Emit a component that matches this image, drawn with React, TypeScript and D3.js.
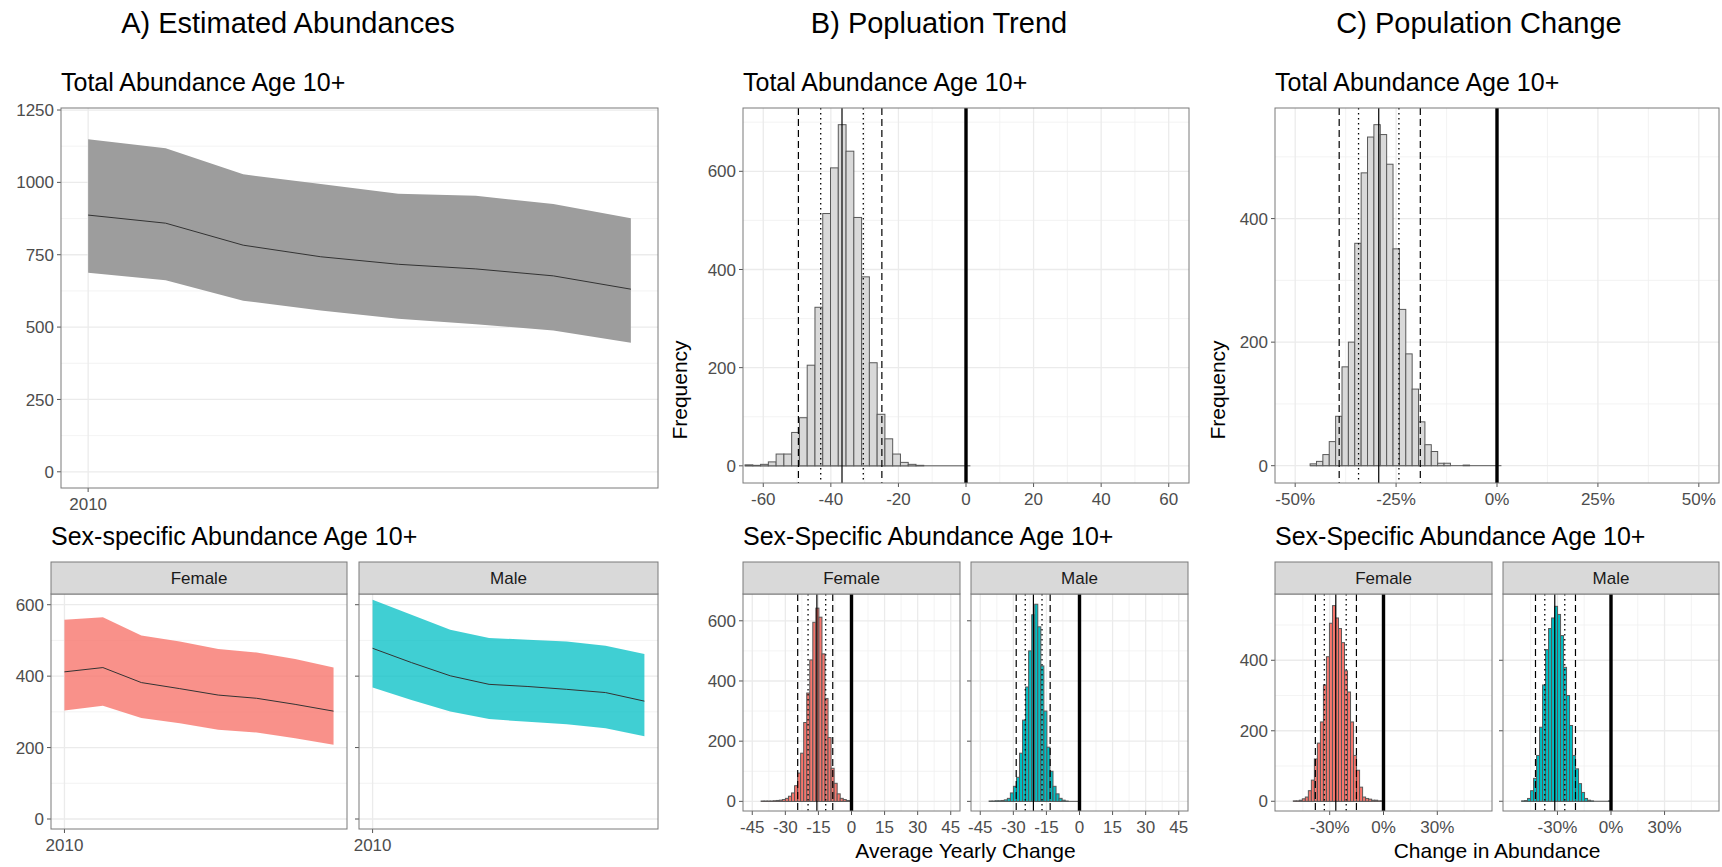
import React, { useEffect, useRef } from "react";
import * as d3 from "d3";

// ---- A) estimated abundances (ribbon = interval, line = estimate)
const years = [2010, 2011, 2012, 2013, 2014, 2015, 2016, 2017];
const totalMean = [887, 859, 783, 743, 717, 701, 677, 631];
const totalLower = [688, 662, 591, 557, 529, 510, 488, 446];
const totalUpper = [1149, 1118, 1028, 994, 961, 954, 925, 876];
const femaleMean = [412, 424, 382, 365, 347, 338, 321, 302];
const femaleLower = [304, 317, 283, 268, 250, 242, 226, 208];
const femaleUpper = [558, 565, 514, 497, 476, 466, 448, 424];
const maleMean = [478, 438, 401, 377, 371, 363, 354, 330];
const maleLower = [368, 333, 301, 280, 272, 265, 254, 232];
const maleUpper = [614, 572, 530, 507, 502, 497, 485, 462];

// ---- B) population trend histograms (average yearly change)
const trendTotalBin = { start: -65.4, width: 2.3 };
const trendTotalCounts = [2, 1, 3, 8, 24, 24, 68, 98, 205, 323, 514, 607, 695, 641, 506, 385, 210, 105, 55, 24, 7, 3, 1, 0, 0, 0, 0, 0, 0];
const trendTotalStats = [-49.6, -43.0, -36.7, -30.4, -24.9]; // 2.5%, 10%, median, 90%, 97.5%

const trendSexBin = { start: -41, width: 1.38 };
const trendFemaleCounts = [1, 1, 1, 1, 2, 3, 4, 6, 10, 17, 28, 52, 94, 160, 262, 360, 470, 595, 642, 612, 490, 342, 212, 110, 60, 25, 10, 6, 3, 1];
const trendMaleCounts = [1, 1, 2, 2, 3, 5, 10, 28, 50, 80, 160, 270, 380, 500, 620, 655, 580, 450, 300, 180, 100, 50, 25, 10, 4, 1, 0, 0, 0, 0];
const trendFemaleStats = [-24.4, -19.7, -15.7, -11.7, -8.5];
const trendMaleStats = [-28.7, -24.6, -20.9, -17.0, -13.3];

// ---- C) population change histograms (percent)
const changeTotalBin = { start: -46.3, width: 1.58 };
const changeTotalCounts = [3, 7, 18, 39, 80, 160, 200, 360, 474, 532, 552, 536, 488, 351, 253, 181, 124, 71, 34, 23, 4, 4, 0, 0, 1, 0, 0, 0, 0, 0];
const changeTotalStats = [-39.1, -34.3, -29.3, -24.3, -19.0];

const changeFemaleBin = { start: -50.3, width: 1.68 };
const changeMaleBin = { start: -50.1, width: 1.68 };
const changeFemaleCounts = [1, 1, 3, 7, 12, 30, 60, 120, 165, 225, 330, 410, 505, 555, 520, 490, 450, 370, 310, 225, 130, 88, 40, 12, 8, 6, 3, 3, 1, 1];
const changeMaleCounts = [1, 2, 8, 30, 65, 130, 210, 330, 430, 490, 520, 553, 530, 470, 380, 300, 215, 130, 92, 50, 25, 8, 3, 1, 0, 0, 0, 0, 0, 1];
const changeFemaleStats = [-38.0, -33.0, -26.6, -20.8, -15.1];
const changeMaleStats = [-42.3, -37.1, -31.5, -25.9, -19.9];

const W = 1722;
const H = 867;
const FONT = "'Liberation Sans', Arial, Helvetica, sans-serif";
const RED = "#F8766D";
const TEAL = "#00BFC4";

function range(a, b, step) {
  const out = [];
  for (let v = a; v <= b + 1e-9; v += step) out.push(+v.toFixed(4));
  return out;
}

function drawPanel(svg, box, xDomain, yDomain, o) {
  const x = d3.scaleLinear().domain(xDomain).range([box.x0, box.x1]);
  const y = d3.scaleLinear().domain(yDomain).range([box.y1, box.y0]);
  const g = svg.append("g");
  g.append("rect")
    .attr("x", box.x0).attr("y", box.y0)
    .attr("width", box.x1 - box.x0).attr("height", box.y1 - box.y0)
    .attr("fill", "white");

  const inX = (v) => x(v) >= box.x0 && x(v) <= box.x1;
  const inY = (v) => y(v) >= box.y0 && y(v) <= box.y1;

  (o.xMinor || []).filter(inX).forEach((v) => {
    g.append("line").attr("x1", x(v)).attr("x2", x(v)).attr("y1", box.y0).attr("y2", box.y1)
      .attr("stroke", "#f0f0f0").attr("stroke-width", 0.8);
  });
  (o.yMinor || []).filter(inY).forEach((v) => {
    g.append("line").attr("x1", box.x0).attr("x2", box.x1).attr("y1", y(v)).attr("y2", y(v))
      .attr("stroke", "#f0f0f0").attr("stroke-width", 0.8);
  });
  o.xMajor.filter(inX).forEach((v) => {
    g.append("line").attr("x1", x(v)).attr("x2", x(v)).attr("y1", box.y0).attr("y2", box.y1)
      .attr("stroke", "#ebebeb").attr("stroke-width", 1.3);
  });
  o.yMajor.filter(inY).forEach((v) => {
    g.append("line").attr("x1", box.x0).attr("x2", box.x1).attr("y1", y(v)).attr("y2", y(v))
      .attr("stroke", "#ebebeb").attr("stroke-width", 1.3);
  });

  const axes = svg.append("g");
  o.xMajor.filter(inX).forEach((v) => {
    axes.append("line").attr("x1", x(v)).attr("x2", x(v)).attr("y1", box.y1).attr("y2", box.y1 + 4)
      .attr("stroke", "#555").attr("stroke-width", 1);
    axes.append("text").attr("x", x(v)).attr("y", box.y1 + 22)
      .attr("text-anchor", "middle").attr("font-size", 17).attr("fill", "#4d4d4d")
      .attr("font-family", FONT).text(o.xFmt ? o.xFmt(v) : String(v));
  });
  o.yMajor.filter(inY).forEach((v) => {
    axes.append("line").attr("x1", box.x0 - 4).attr("x2", box.x0).attr("y1", y(v)).attr("y2", y(v))
      .attr("stroke", "#555").attr("stroke-width", 1);
    if (o.yLabels !== false) {
      axes.append("text").attr("x", box.x0 - 7).attr("y", y(v)).attr("dy", "0.36em")
        .attr("text-anchor", "end").attr("font-size", 17).attr("fill", "#4d4d4d")
        .attr("font-family", FONT).text(String(v));
    }
  });
  return { g, x, y, box };
}

function drawBorder(svg, box) {
  svg.append("rect")
    .attr("x", box.x0).attr("y", box.y0)
    .attr("width", box.x1 - box.x0).attr("height", box.y1 - box.y0)
    .attr("fill", "none").attr("stroke", "#7a7a7a").attr("stroke-width", 1);
}

function drawStrip(svg, box, label) {
  svg.append("rect")
    .attr("x", box.x0).attr("y", 562).attr("width", box.x1 - box.x0).attr("height", 32)
    .attr("fill", "#d9d9d9").attr("stroke", "#7a7a7a").attr("stroke-width", 1);
  svg.append("text").attr("x", (box.x0 + box.x1) / 2).attr("y", 578).attr("dy", "0.36em")
    .attr("text-anchor", "middle").attr("font-size", 17).attr("fill", "#1a1a1a")
    .attr("font-family", FONT).text(label);
}

function drawRibbon(p, lower, upper, mean, fill, opacity) {
  const rows = years.map((yr, i) => ({ yr, lo: lower[i], hi: upper[i], m: mean[i] }));
  const area = d3.area().x((d) => p.x(d.yr)).y0((d) => p.y(d.lo)).y1((d) => p.y(d.hi));
  p.g.append("path").datum(rows).attr("d", area).attr("fill", fill).attr("fill-opacity", opacity);
  const line = d3.line().x((d) => p.x(d.yr)).y((d) => p.y(d.m));
  p.g.append("path").datum(rows).attr("d", line).attr("fill", "none")
    .attr("stroke", "#333").attr("stroke-width", 1);
}

function drawHist(p, counts, bin, fill) {
  const bars = counts.map((c, i) => ({ x0: bin.start + i * bin.width, x1: bin.start + (i + 1) * bin.width, c }));
  // empty bins still draw their outline along zero
  p.g.append("line")
    .attr("x1", p.x(bars[0].x0)).attr("x2", p.x(bars[bars.length - 1].x1))
    .attr("y1", p.y(0)).attr("y2", p.y(0))
    .attr("stroke", "#595959").attr("stroke-width", 1);
  p.g.selectAll(null).data(bars.filter((d) => d.c > 0)).enter().append("rect")
    .attr("x", (d) => p.x(d.x0))
    .attr("width", (d) => p.x(d.x1) - p.x(d.x0))
    .attr("y", (d) => p.y(d.c))
    .attr("height", (d) => p.y(0) - p.y(d.c))
    .attr("fill", fill)
    .attr("stroke", "#595959")
    .attr("stroke-width", 1);
}

function drawStats(p, stats) {
  const styles = [
    { dash: "7,4", w: 1.2 },
    { dash: "1.5,3.5", w: 1.3 },
    { dash: null, w: 1.2 },
    { dash: "1.5,3.5", w: 1.3 },
    { dash: "7,4", w: 1.2 },
  ];
  stats.forEach((v, i) => {
    const l = p.g.append("line").attr("x1", p.x(v)).attr("x2", p.x(v))
      .attr("y1", p.box.y0).attr("y2", p.box.y1)
      .attr("stroke", "black").attr("stroke-width", styles[i].w);
    if (styles[i].dash) l.attr("stroke-dasharray", styles[i].dash);
  });
  p.g.append("line").attr("x1", p.x(0)).attr("x2", p.x(0))
    .attr("y1", p.box.y0).attr("y2", p.box.y1)
    .attr("stroke", "black").attr("stroke-width", 3.4);
}

function text(svg, x, y, s, size, opts = {}) {
  const t = svg.append("text").attr("x", x).attr("y", y)
    .attr("font-size", size).attr("font-family", FONT).attr("fill", opts.fill || "black")
    .attr("text-anchor", opts.anchor || "start").text(s);
  if (opts.rotate) t.attr("transform", `rotate(-90, ${x}, ${y})`);
  return t;
}

function App() {
  const ref = useRef(null);

  useEffect(() => {
    if (!ref.current) return;
    const svg = d3.select(ref.current);
    svg.selectAll("*").remove();

    svg.append("rect").attr("width", W).attr("height", H).attr("fill", "white");

    // column titles
    text(svg, 288, 33, "A) Estimated Abundances", 29, { anchor: "middle" });
    text(svg, 939, 33, "B) Popluation Trend", 29, { anchor: "middle" });
    text(svg, 1479, 33, "C) Population Change", 29, { anchor: "middle" });

    const yrExt = d3.extent(years);
    const pad = (yrExt[1] - yrExt[0]) * 0.05;
    const yrDomain = [yrExt[0] - pad, yrExt[1] + pad];
    const top = { y0: 108, y1: 483 };
    const botA = { y0: 594, y1: 829 };
    const bot = { y0: 594, y1: 811 };

    // ---------- A top
    const aTopBox = { x0: 61, x1: 658, y0: 108, y1: 488 };
    const aTop = drawPanel(svg, aTopBox, yrDomain, [-56, 1257], {
      xMajor: [2010], yMajor: range(0, 1250, 250), yMinor: range(125, 1125, 250),
    });
    drawRibbon(aTop, totalLower, totalUpper, totalMean, "#9d9d9d", 1);
    drawBorder(svg, aTopBox);
    text(svg, 61, 91, "Total Abundance Age 10+", 25);

    // ---------- A bottom
    text(svg, 51, 545, "Sex-specific Abundance Age 10+", 25);
    const aF = { x0: 51, x1: 347, ...botA };
    const aM = { x0: 359, x1: 658, ...botA };
    const aOpts = { xMajor: [2010], yMajor: range(0, 600, 200), yMinor: range(100, 500, 200) };
    const pF = drawPanel(svg, aF, yrDomain, [-28, 630], aOpts);
    drawRibbon(pF, femaleLower, femaleUpper, femaleMean, RED, 0.8);
    const pM = drawPanel(svg, aM, yrDomain, [-28, 630], { ...aOpts, yLabels: false });
    drawRibbon(pM, maleLower, maleUpper, maleMean, TEAL, 0.75);
    [aF, aM].forEach((b) => drawBorder(svg, b));
    drawStrip(svg, aF, "Female");
    drawStrip(svg, aM, "Male");

    // ---------- B top
    const bTopBox = { x0: 743, x1: 1189, ...top };
    const bTop = drawPanel(svg, bTopBox, [-66, 66], [-35, 729], {
      xMajor: range(-60, 60, 20), xMinor: range(-50, 50, 20),
      yMajor: range(0, 600, 200), yMinor: range(100, 700, 200),
    });
    drawHist(bTop, trendTotalCounts, trendTotalBin, "#d9d9d9");
    drawStats(bTop, trendTotalStats);
    drawBorder(svg, bTopBox);
    text(svg, 743, 91, "Total Abundance Age 10+", 25);
    text(svg, 687, 390, "Frequency", 21, { anchor: "middle", rotate: true });

    // ---------- B bottom
    text(svg, 743, 545, "Sex-Specific Abundance Age 10+", 25);
    const bF = { x0: 743, x1: 960, ...bot };
    const bM = { x0: 971, x1: 1188, ...bot };
    const bOpts = {
      xMajor: range(-45, 45, 15), xMinor: range(-37.5, 37.5, 15),
      yMajor: range(0, 600, 200), yMinor: range(100, 500, 200),
    };
    const bpF = drawPanel(svg, bF, [-49.2, 49.2], [-32, 689], bOpts);
    drawHist(bpF, trendFemaleCounts, trendSexBin, RED);
    drawStats(bpF, trendFemaleStats);
    const bpM = drawPanel(svg, bM, [-49.2, 49.2], [-32, 689], { ...bOpts, yLabels: false });
    drawHist(bpM, trendMaleCounts, trendSexBin, TEAL);
    drawStats(bpM, trendMaleStats);
    [bF, bM].forEach((b) => drawBorder(svg, b));
    drawStrip(svg, bF, "Female");
    drawStrip(svg, bM, "Male");
    text(svg, (743 + 1188) / 2, 858, "Average Yearly Change", 21, { anchor: "middle" });

    // ---------- C top
    const pct = (v) => `${v}%`;
    const cTopBox = { x0: 1275, x1: 1719, ...top };
    const cTop = drawPanel(svg, cTopBox, [-55, 55], [-28, 579], {
      xMajor: range(-50, 50, 25), xMinor: range(-37.5, 37.5, 25), xFmt: pct,
      yMajor: range(0, 400, 200), yMinor: range(100, 500, 200),
    });
    drawHist(cTop, changeTotalCounts, changeTotalBin, "#d9d9d9");
    drawStats(cTop, changeTotalStats);
    drawBorder(svg, cTopBox);
    text(svg, 1275, 91, "Total Abundance Age 10+", 25);
    text(svg, 1225, 390, "Frequency", 21, { anchor: "middle", rotate: true });

    // ---------- C bottom
    text(svg, 1275, 545, "Sex-Specific Abundance Age 10+", 25);
    const cF = { x0: 1275, x1: 1492, ...bot };
    const cM = { x0: 1503, x1: 1719, ...bot };
    const cOpts = {
      xMajor: range(-30, 30, 30), xMinor: range(-45, 45, 30), xFmt: pct,
      yMajor: range(0, 400, 200), yMinor: range(100, 500, 200),
    };
    const cpF = drawPanel(svg, cF, [-60.5, 60.5], [-27.6, 588], cOpts);
    drawHist(cpF, changeFemaleCounts, changeFemaleBin, RED);
    drawStats(cpF, changeFemaleStats);
    const cpM = drawPanel(svg, cM, [-60.5, 60.5], [-27.6, 588], { ...cOpts, yLabels: false });
    drawHist(cpM, changeMaleCounts, changeMaleBin, TEAL);
    drawStats(cpM, changeMaleStats);
    [cF, cM].forEach((b) => drawBorder(svg, b));
    drawStrip(svg, cF, "Female");
    drawStrip(svg, cM, "Male");
    text(svg, (1275 + 1719) / 2, 858, "Change in Abundance", 21, { anchor: "middle" });
  }, []);

  return (
    <div style={{ position: "absolute", left: 0, top: 0 }}>
      <svg ref={ref} width={W} height={H}></svg>
    </div>
  );
}

export default App;
